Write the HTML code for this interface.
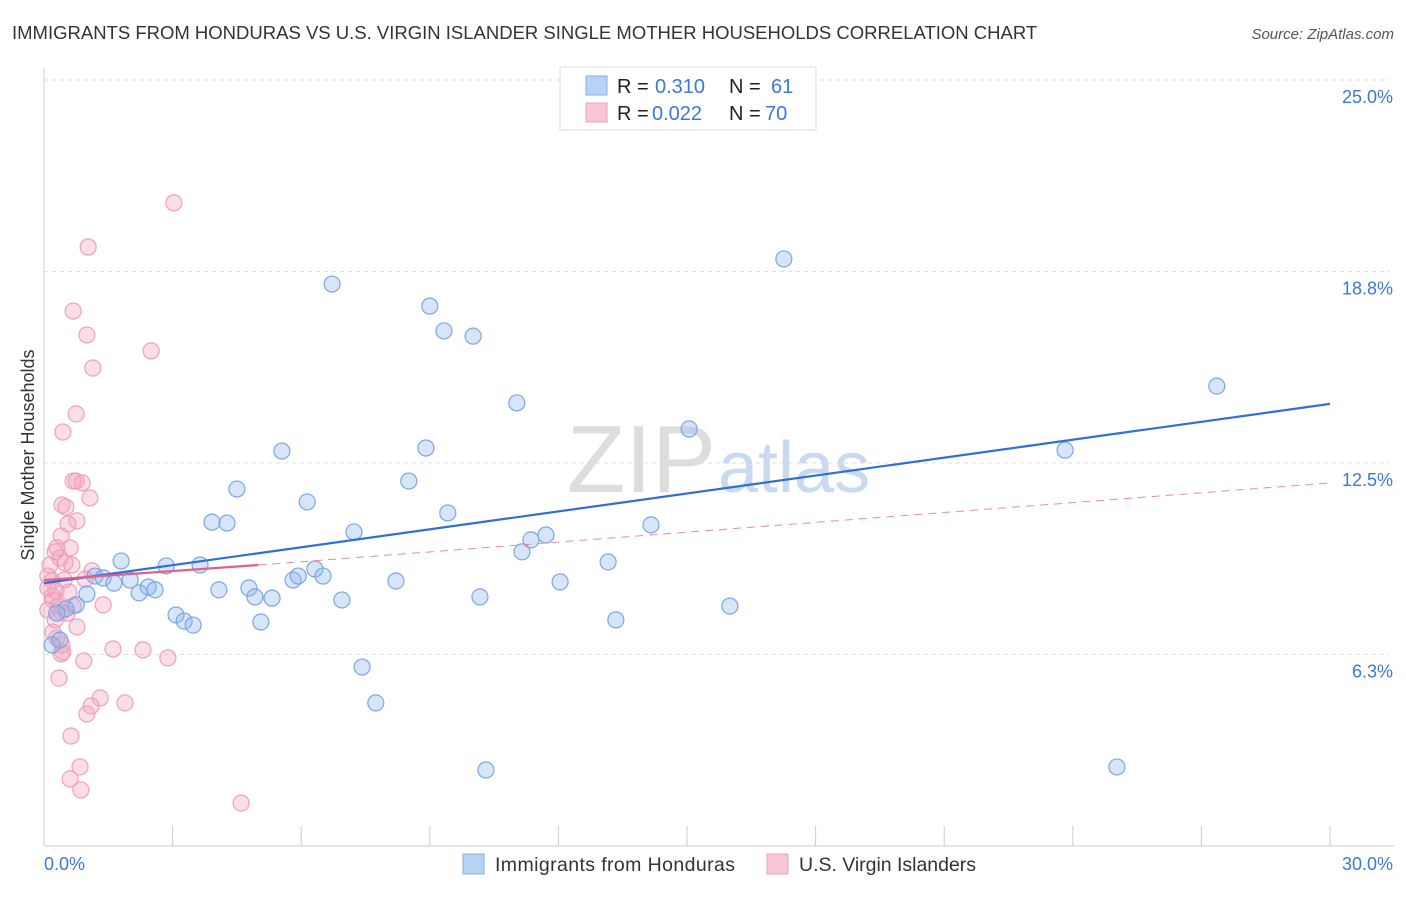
<!DOCTYPE html>
<html><head><meta charset="utf-8"><style>
body{margin:0;background:#fff;font-family:"Liberation Sans",sans-serif;}
svg text{font-family:"Liberation Sans",sans-serif;}
</style></head><body>
<svg id="c" width="1406" height="892">
<text x="12" y="39" font-size="18.5" fill="#333">IMMIGRANTS FROM HONDURAS VS U.S. VIRGIN ISLANDER SINGLE MOTHER HOUSEHOLDS CORRELATION CHART</text>
<text x="1394" y="39" font-size="15" font-style="italic" fill="#555" text-anchor="end">Source: ZipAtlas.com</text>
<text transform="translate(34,455) rotate(-90)" font-size="18" fill="#333" text-anchor="middle">Single Mother Households</text>
<g id="grid"></g>
<text x="716" y="492" font-size="96" font-family="Liberation Serif" fill="#ddd" text-anchor="end">ZIP</text>
<text x="718" y="492" font-size="72" fill="#c9daf0">atlas</text>
<g id="marks"></g>
<g>
<rect x="560" y="67" width="256" height="63" fill="#fff" stroke="#ddd"/>
<rect x="586" y="76" width="21" height="19" fill="#b8d2f4" stroke="#88aee6"/>
<rect x="586" y="103" width="21" height="19" fill="#f8c6d5" stroke="#eea0ba"/>
<text x="617" y="93" font-size="20" fill="#222">R =</text>
<text x="655" y="93" font-size="20" fill="#3b78d8">0.310</text>
<text x="729" y="93" font-size="20" fill="#222">N =</text>
<text x="771" y="93" font-size="20" fill="#3b78d8">61</text>
<text x="617" y="120" font-size="20" fill="#222">R =</text>
<text x="652" y="120" font-size="20" fill="#3b78d8">0.022</text>
<text x="729" y="120" font-size="20" fill="#222">N =</text>
<text x="765" y="120" font-size="20" fill="#3b78d8">70</text>
</g>
<g>
<rect x="463" y="854" width="21" height="20" fill="#b8d2f4" stroke="#88aee6"/>
<text x="495" y="871" font-size="19.5" fill="#333" textLength="240">Immigrants from Honduras</text>
<rect x="767" y="854" width="21" height="20" fill="#f8c6d5" stroke="#eea0ba"/>
<text x="799" y="871" font-size="19.5" fill="#333" textLength="177">U.S. Virgin Islanders</text>
</g>
</svg>
<script>
const yTicks=[6.25,12.5,18.75,25];
const yTickLabels=["6.3%","12.5%","18.8%","25.0%"];
const xTicks=[0,3,6,9,12,15,18,21,24,27,30];
const blueX=[17.26,6.72,9.00,9.33,10.01,11.03,27.36,15.05,5.55,8.91,23.82,4.50,8.51,6.14,9.42,3.92,4.27,14.16,7.23,11.71,11.36,11.15,1.80,2.85,3.64,13.16,6.32,6.51,1.19,1.38,2.01,1.63,5.81,5.93,8.21,12.04,2.43,2.59,2.22,1.00,4.08,4.78,4.92,5.32,6.95,10.17,0.75,0.51,0.30,3.08,3.27,3.48,5.06,13.34,16.00,7.42,7.74,10.31,25.03,0.19,0.37];
const blueY=[19.16,18.34,17.62,16.81,16.64,14.46,15.01,13.61,12.89,12.99,12.92,11.65,11.91,11.23,10.87,10.57,10.54,10.48,10.25,10.15,9.99,9.60,9.30,9.14,9.17,9.27,9.04,8.81,8.81,8.75,8.68,8.58,8.68,8.81,8.65,8.62,8.45,8.36,8.26,8.22,8.36,8.42,8.13,8.09,8.03,8.13,7.87,7.74,7.60,7.54,7.34,7.21,7.31,7.38,7.83,5.84,4.67,2.48,2.58,6.56,6.72];
const pinkX=[3.03,1.03,0.68,1.00,2.50,1.14,0.75,0.44,0.68,0.89,0.75,1.07,0.42,0.51,0.77,0.56,0.40,0.30,0.26,0.61,0.37,0.49,0.65,1.12,0.09,0.19,0.47,0.96,0.19,0.58,0.21,0.33,0.09,0.40,0.68,1.38,0.54,0.26,0.77,0.21,0.30,0.42,0.44,0.40,1.61,2.31,2.89,0.93,0.35,1.31,1.89,1.10,1.00,0.63,0.84,0.61,0.86,4.60,0.09,0.14,0.28];
const pinkY=[20.99,19.55,17.46,16.68,16.16,15.60,14.10,13.51,11.91,11.85,11.91,11.36,11.13,11.06,10.61,10.51,10.12,9.73,9.60,9.73,9.40,9.24,9.17,8.98,8.81,8.65,8.68,8.71,8.16,8.29,8.03,7.83,7.70,7.64,7.83,7.87,7.60,7.38,7.15,6.98,6.79,6.56,6.33,6.27,6.43,6.40,6.14,6.04,5.48,4.83,4.67,4.57,4.31,3.59,2.58,2.19,1.83,1.40,8.42,9.17,8.32];
const blueTrend=[8.58,14.43];
const pinkTrend=[8.68,9.17,11.85];
const X0=44,X1=1330,Y0=846,Y1=80;
const sx=v=>X0+(X1-X0)*v/30, sy=v=>Y0-(Y0-Y1)*v/25;
const NS="http://www.w3.org/2000/svg";
function mk(t,a,p){const e=document.createElementNS(NS,t);for(const k in a)e.setAttribute(k,a[k]);p.appendChild(e);return e;}
const g=document.getElementById('grid'), m=document.getElementById('marks');
yTicks.forEach((t,i)=>{
 const l=mk('line',{x1:X0,x2:X1+60,y1:sy(t),y2:sy(t),stroke:'#ddd','stroke-dasharray':'4,4'},g);
 
 
 const tx=mk('text',{x:1393,y:sy(t)+23,'font-size':18,fill:'#3b78d8','text-anchor':'end'},g);
 tx.textContent=yTickLabels[i];
 
 
});
const ax=mk('line',{x1:X0,x2:X0,y1:68,y2:Y0,stroke:'#ccc'},g);


const bx=mk('line',{x1:X0,x2:1394,y1:Y0,y2:Y0,stroke:'#ccc'},g);


xTicks.forEach(t=>{
 const l=mk('line',{x1:sx(t),x2:sx(t),y1:826,y2:Y0,stroke:'#ccc'},g);
 
 
});
const xl0=mk('text',{x:44,y:870,'font-size':18,fill:'#3b78d8'},g);xl0.textContent='0.0%';


const xl1=mk('text',{x:1393,y:870,'font-size':18,fill:'#3b78d8','text-anchor':'end'},g);xl1.textContent='30.0%';


pinkX.forEach((x,i)=>{
 const c=mk('circle',{cx:sx(x),cy:sy(pinkY[i]),r:8,fill:'rgba(244,160,188,0.35)',stroke:'#eea0ba','stroke-width':1.2},m);
 
 
});
blueX.forEach((x,i)=>{
 const c=mk('circle',{cx:sx(x),cy:sy(blueY[i]),r:8,fill:'rgba(140,180,236,0.35)',stroke:'#7ba6e2','stroke-width':1.2},m);
 
 
});
const bl=mk('line',{x1:sx(0),y1:sy(blueTrend[0]),x2:sx(30),y2:sy(blueTrend[1]),stroke:'#2f6fd6','stroke-width':2.2},m);


const pd=mk('line',{x1:sx(5),y1:sy(pinkTrend[1]),x2:sx(30),y2:sy(pinkTrend[2]),stroke:'#e58aa8','stroke-width':1,'stroke-dasharray':'8,6'},m);


const ps=mk('line',{x1:sx(0),y1:sy(pinkTrend[0]),x2:sx(5),y2:sy(pinkTrend[1]),stroke:'#e0608a','stroke-width':2.2},m);


</script>
</body></html>
